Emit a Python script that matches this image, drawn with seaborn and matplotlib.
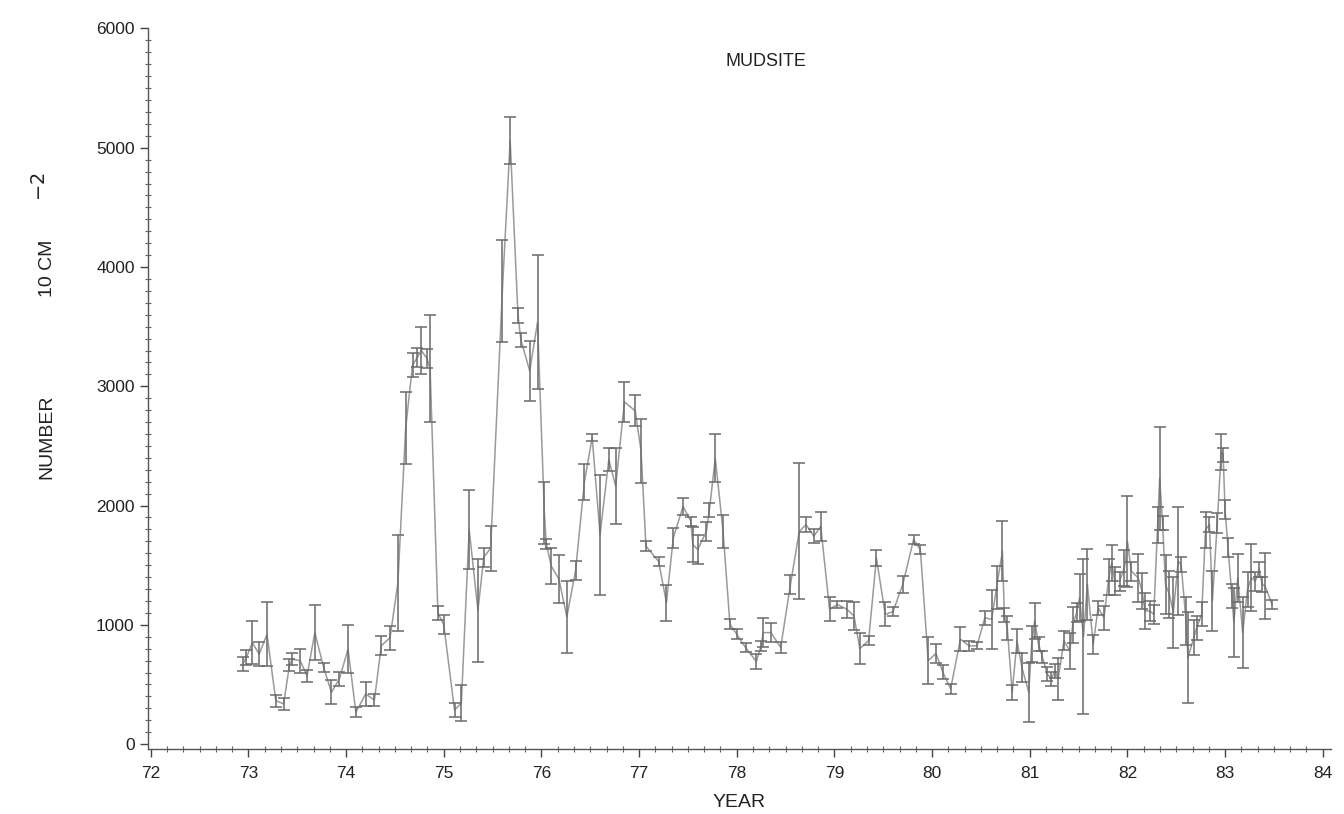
import numpy as np
import pandas as pd
import matplotlib
matplotlib.use("Agg")
import matplotlib.pyplot as plt
from matplotlib.ticker import MultipleLocator
import seaborn as sns

year = [72.94, 72.98, 73.04, 73.11, 73.19, 73.28, 73.36, 73.42, 73.45, 73.53,
        73.60, 73.68, 73.77, 73.85, 73.93, 74.02, 74.10, 74.20, 74.29, 74.36,
        74.45, 74.53, 74.61, 74.68, 74.73, 74.77, 74.83, 74.86, 74.94, 75.00,
        75.11, 75.18, 75.26, 75.35, 75.41, 75.48, 75.60, 75.68, 75.76, 75.79,
        75.88, 75.96, 76.03, 76.05, 76.10, 76.18, 76.26, 76.35, 76.44, 76.52,
        76.60, 76.69, 76.76, 76.85, 76.96, 77.02, 77.07, 77.20, 77.28, 77.35,
        77.45, 77.53, 77.55, 77.60, 77.69, 77.72, 77.78, 77.86, 77.93, 78.00,
        78.09, 78.20, 78.25, 78.27, 78.35, 78.45, 78.55, 78.64, 78.71, 78.79,
        78.86, 78.95, 79.03, 79.13, 79.20, 79.26, 79.35, 79.43, 79.52, 79.60,
        79.70, 79.81, 79.88, 79.96, 80.04, 80.11, 80.19, 80.29, 80.38, 80.46,
        80.54, 80.61, 80.66, 80.72, 80.74, 80.77, 80.82, 80.87, 80.92, 80.99,
        81.02, 81.05, 81.09, 81.13, 81.18, 81.22, 81.26, 81.29, 81.35, 81.41,
        81.44, 81.48, 81.51, 81.55, 81.59, 81.65, 81.70, 81.76, 81.81, 81.84,
        81.87, 81.92, 81.97, 82.00, 82.04, 82.11, 82.15, 82.18, 82.23, 82.27,
        82.31, 82.33, 82.36, 82.39, 82.43, 82.47, 82.52, 82.55, 82.60, 82.62,
        82.68, 82.71, 82.76, 82.80, 82.84, 82.87, 82.92, 82.96, 82.98, 83.00,
        83.03, 83.07, 83.09, 83.13, 83.18, 83.23, 83.27, 83.31, 83.35, 83.38,
        83.41, 83.48]

number = [671, 727, 852, 754, 921, 365, 337, 660, 712, 699,
          573, 935, 643, 434, 545, 796, 267, 420, 370, 824,
          893, 1350, 2650, 3176, 3245, 3300, 3231, 3150, 1100, 1000,
          286, 342, 1800, 1122, 1568, 1642, 3800, 5061, 3593, 3389,
          3129, 3538, 1940, 1680, 1494, 1382, 1066, 1457, 2200, 2571,
          1754, 2386, 2163, 2869, 2794, 2460, 1661, 1531, 1186, 1728,
          1993, 1868, 1673, 1631, 1784, 1965, 2396, 1784, 1005, 921,
          809, 693, 824, 935, 935, 810, 1339, 1784, 1840, 1743,
          1826, 1130, 1170, 1130, 1074, 800, 868, 1561, 1088, 1110,
          1339, 1714, 1631, 700, 760, 602, 464, 880, 824, 824,
          1060, 1046, 1311, 1617, 1085, 974, 434, 865, 642, 434,
          839, 1033, 839, 727, 588, 546, 615, 546, 865, 782,
          1000, 1100, 1228, 900, 1339, 838, 1144, 1060, 1400, 1520,
          1367, 1367, 1478, 1701, 1450, 1395, 1284, 1116, 1116, 1088,
          1840, 2229, 1854, 1339, 1255, 1102, 1534, 1506, 1032, 724,
          893, 977, 1088, 1798, 1840, 1200, 1854, 2452, 2424, 1965,
          1645, 1242, 1019, 1395, 936, 1297, 1395, 1367, 1464, 1339,
          1325, 1172]

err = [60, 60, 180, 100, 270, 50, 50, 50, 50, 100,
       50, 230, 40, 100, 60, 200, 40, 100, 50, 80,
       100, 400, 300, 100, 80, 200, 80, 450, 60, 80,
       60, 150, 330, 430, 80, 190, 430, 200, 60, 60,
       250, 560, 260, 40, 150, 200, 300, 80, 150, 30,
       500, 100, 320, 170, 130, 270, 40, 40, 150, 80,
       70, 40, 150, 120, 80, 60, 200, 140, 40, 40,
       40, 60, 40, 120, 80, 50, 80, 570, 60, 60,
       120, 100, 30, 70, 120, 130, 40, 70, 100, 40,
       70, 40, 40, 200, 80, 60, 40, 100, 40, 30,
       60, 250, 180, 250, 60, 100, 60, 100, 120, 250,
       150, 150, 60, 50, 60, 60, 60, 180, 80, 150,
       150, 80, 200, 650, 300, 80, 60, 100, 150, 150,
       120, 80, 150, 380, 80, 200, 150, 150, 80, 80,
       150, 430, 60, 250, 200, 300, 450, 60, 200, 380,
       150, 100, 100, 150, 60, 250, 80, 150, 60, 80,
       80, 100, 290, 200, 300, 150, 280, 80, 60, 60,
       280, 40]

x_ticks = list(range(72, 85))
y_ticks = [0, 1000, 2000, 3000, 4000, 5000, 6000]

df = pd.DataFrame({"year": year, "number": number, "err": err})

sns.set_theme(style="ticks")
plt.rcParams["font.family"] = ["Liberation Sans", "DejaVu Sans"]

W, H = 1344, 814
fig = plt.figure(figsize=(W / 100, H / 100), dpi=100)
ax = fig.add_axes([0.110, 0.080, 0.880, 0.885])

sns.lineplot(data=df, x="year", y="number", ax=ax, color="#9a9a9a",
             linewidth=1.1, sort=False, estimator=None)
ax.errorbar(df["year"], df["number"], yerr=df["err"], fmt="none",
            ecolor="#6a6a6a", elinewidth=1.1, capsize=4.5, capthick=1.1)

ax.set_xlim(71.97, 84.08)
ax.set_ylim(-40, 6000)
ax.set_xticks(x_ticks)
ax.set_yticks(y_ticks)
ax.xaxis.set_minor_locator(MultipleLocator(1 / 6))
ax.yaxis.set_minor_locator(MultipleLocator(100))
ax.tick_params(axis="both", which="major", direction="out", length=6,
               width=1, color="#444444", labelsize=12.5, labelcolor="#222222")
ax.tick_params(axis="x", which="major", pad=6)
ax.tick_params(axis="both", which="minor", direction="inout", length=4,
               width=0.8, color="#666666")
sns.despine(ax=ax)
for side in ["left", "bottom"]:
    ax.spines[side].set_color("#555555")
    ax.spines[side].set_linewidth(1.0)

ax.set_xlabel("YEAR", fontsize=14, color="#222222", labelpad=10)
ax.set_ylabel("")

# y-axis label pieces, placed in figure pixel coordinates (as in the original)
fig.text(47 / W, 1 - 437 / H, "NUMBER", rotation=90, fontsize=14,
         color="#222222", ha="center", va="center")
fig.text(47 / W, 1 - 268 / H, "10 CM", rotation=90, fontsize=14,
         color="#222222", ha="center", va="center")
fig.text(40 / W, 1 - 187 / H, "$-2$", rotation=90, fontsize=14,
         color="#222222", ha="center", va="center")

ax.text(78.3, 5720, "MUDSITE", fontsize=13, color="#222222",
        ha="center", va="center")

fig.savefig("out.png", dpi=100)
